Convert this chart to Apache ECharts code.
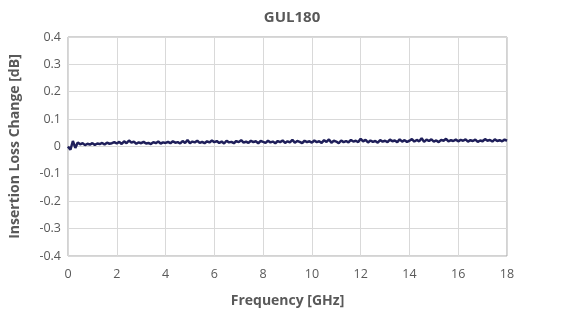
<!doctype html>
<html>
<head>
<meta charset="utf-8">
<title>GUL180</title>
<script src="https://cdn.jsdelivr.net/npm/echarts@6/dist/echarts.min.js"></script>
<style>html,body{margin:0;padding:0;background:#fff;}#main{width:580px;height:315px;}</style>
</head>
<body>
<div id="main"></div>
<script>
// 频率步长 0.1 GHz, 0..18 GHz
var freqStep = 0.1;
var lossA = [0.0, -0.012, 0.02, -0.005, 0.015, 0.008, 0.012, 0.005, 0.01, 0.007, 0.012, 0.006, 0.011, 0.009, 0.013, 0.007, 0.014, 0.01, 0.012, 0.016];
var lossB = [0.011, 0.017, 0.009, 0.019, 0.012, 0.022, 0.014, 0.018, 0.01, 0.015, 0.012, 0.017, 0.011, 0.013, 0.009, 0.016, 0.012, 0.018, 0.011, 0.015];
var lossC = [0.013, 0.017, 0.012, 0.019, 0.014, 0.016, 0.011, 0.02, 0.013, 0.024, 0.012, 0.018, 0.015, 0.021, 0.013, 0.017, 0.012, 0.019, 0.015, 0.022];
var lossD = [0.016, 0.02, 0.013, 0.018, 0.011, 0.021, 0.015, 0.017, 0.012, 0.02, 0.016, 0.023, 0.014, 0.018, 0.013, 0.021, 0.016, 0.019, 0.012, 0.02];
var lossE = [0.017, 0.013, 0.021, 0.015, 0.018, 0.012, 0.02, 0.016, 0.022, 0.013, 0.019, 0.015, 0.024, 0.014, 0.02, 0.017, 0.012, 0.021, 0.016, 0.019];
var lossF = [0.014, 0.022, 0.016, 0.019, 0.013, 0.023, 0.017, 0.026, 0.014, 0.021, 0.018, 0.012, 0.022, 0.016, 0.02, 0.015, 0.024, 0.018, 0.021, 0.016];
var lossG = [0.028, 0.019, 0.024, 0.015, 0.022, 0.017, 0.02, 0.014, 0.023, 0.018, 0.021, 0.016, 0.025, 0.019, 0.022, 0.016, 0.026, 0.018, 0.023, 0.017];
var lossH = [0.021, 0.027, 0.018, 0.024, 0.019, 0.03, 0.017, 0.025, 0.02, 0.026, 0.018, 0.022, 0.016, 0.024, 0.021, 0.028, 0.019, 0.023, 0.02, 0.025];
var lossI = [0.019, 0.024, 0.021, 0.026, 0.018, 0.023, 0.02, 0.025, 0.017, 0.022, 0.019, 0.027, 0.021, 0.024, 0.018, 0.026, 0.02, 0.023, 0.019, 0.025, 0.021];

var loss = [].concat(lossA, lossB, lossC, lossD, lossE, lossF, lossG, lossH, lossI);
var points = [];
for (var i = 0; i < loss.length; i++) {
  points.push([+(i * freqStep).toFixed(2), loss[i]]);
}

var font = '"Open Sans", "Liberation Sans", sans-serif';
var chart = echarts.init(document.getElementById('main'));
chart.setOption({
  animation: false,
  title: {
    text: 'GUL180',
    left: 287, top: 5, textAlign: 'center',
    textStyle: {fontFamily: font, fontSize: 15, fontWeight: 'bold', color: '#595959'}
  },
  grid: {left: 68, right: 73, top: 37, bottom: 59, show: true, borderColor: '#a6a6a6', borderWidth: 1},
  xAxis: {
    type: 'value', min: 0, max: 18, interval: 2,
    name: 'Frequency [GHz]', nameLocation: 'middle', nameGap: 38,
    nameTextStyle: {fontFamily: font, fontSize: 14, fontWeight: 'bold', color: '#595959'},
    axisLine: {show: false},
    axisTick: {show: false},
    axisLabel: {fontFamily: font, fontSize: 12.5, color: '#595959', margin: 12},
    splitLine: {lineStyle: {color: '#d9d9d9'}}
  },
  yAxis: {
    type: 'value', min: -0.4, max: 0.4, interval: 0.1,
    name: 'Insertion Loss Change [dB]', nameLocation: 'middle', nameGap: 46,
    nameTextStyle: {fontFamily: font, fontSize: 14, fontWeight: 'bold', color: '#595959'},
    axisLine: {show: false},
    axisTick: {show: false},
    axisLabel: {
      fontFamily: font, fontSize: 12.5, color: '#595959', margin: 7,
      formatter: function (v) { return Math.abs(v) < 1e-9 ? '0' : (+v).toFixed(1); }
    },
    splitLine: {lineStyle: {color: '#d9d9d9'}}
  },
  series: [{
    type: 'line', data: points, symbol: 'none',
    lineStyle: {color: '#1f1f5a', width: 2.5}
  }]
});
</script>
</body>
</html>
